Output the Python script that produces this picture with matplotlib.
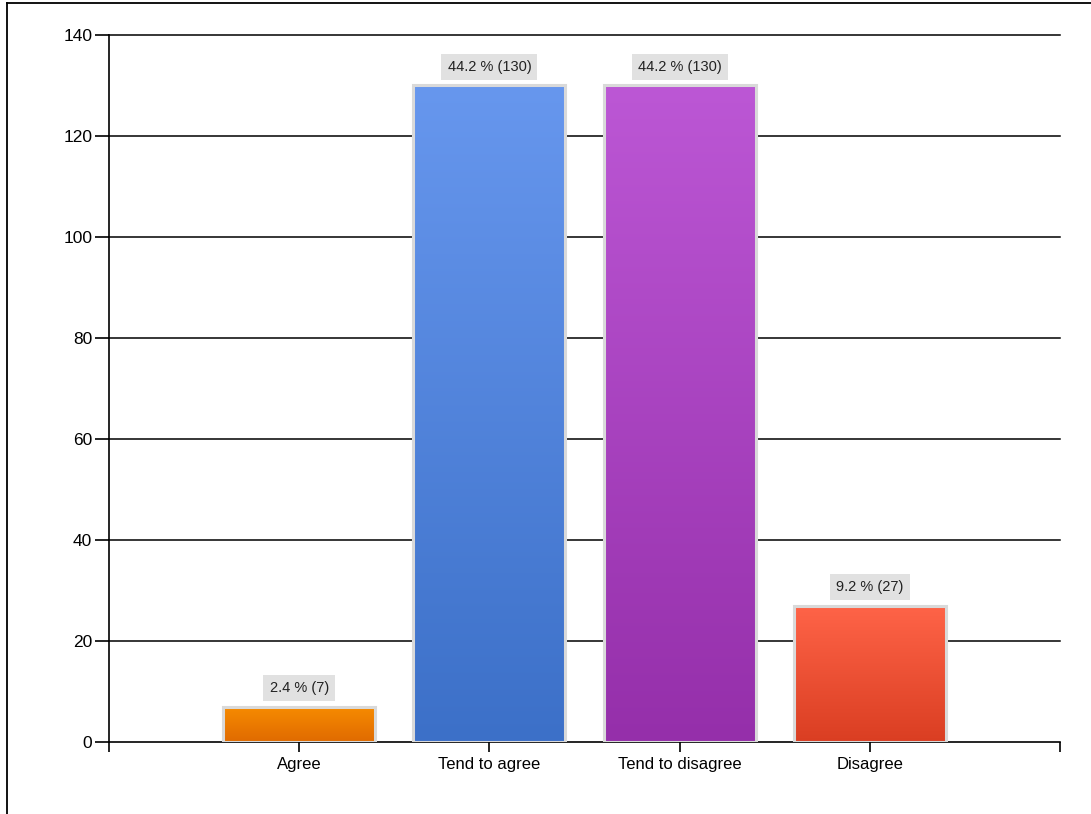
import numpy as np
import matplotlib.pyplot as plt
from matplotlib.lines import Line2D
from matplotlib.colors import LinearSegmentedColormap

categories = ["Agree", "Tend to agree", "Tend to disagree", "Disagree"]
counts = [7, 130, 130, 27]
percents = [2.4, 44.2, 44.2, 9.2]
top_colors = ["#F78C00", "#6797EE", "#BC57D5", "#FF6448"]
bottom_colors = ["#E06A00", "#3C70C8", "#952FAA", "#DA3E22"]
y_ticks = [0, 20, 40, 60, 80, 100, 120, 140]

plt.rcParams["font.family"] = ["Liberation Sans", "DejaVu Sans"]

fig = plt.figure(figsize=(10.91, 8.14), dpi=100)
ax = fig.add_axes([0.0999, 0.0885, 0.8717, 0.8685])

x = np.arange(1, len(categories) + 1)
width = 0.8
grad = np.linspace(0, 1, 256).reshape(-1, 1)

for xi, h, pct, c_top, c_bot in zip(x, counts, percents, top_colors, bottom_colors):
    cmap = LinearSegmentedColormap.from_list("g", [c_bot, c_top])
    ax.imshow(grad, cmap=cmap, origin="lower", aspect="auto",
              extent=(xi - width / 2, xi + width / 2, 0, h), zorder=3)
    ax.bar(xi, h, width=width, facecolor="none", edgecolor="#d9d9d9",
           linewidth=2.2, zorder=4)
    ax.annotate(f"{pct} % ({h})", (xi, h), xytext=(0, 8.5), textcoords="offset points",
                ha="center", va="bottom", fontsize=10.5, color="#222222",
                bbox=dict(boxstyle="square,pad=0.42", facecolor="#e1e1e1", edgecolor="none"))

ax.set_xlim(0, 5)
ax.set_ylim(0, 140)
ax.set_yticks(y_ticks)
ax.set_xticks(x)
ax.set_xticklabels(categories)
ax.set_xticks([0, 5], minor=True)
ax.tick_params(axis="y", direction="out", length=10, width=1.2, labelsize=12.5, pad=2)
ax.tick_params(axis="x", which="both", direction="out", length=7, width=1.2,
               labelsize=12, pad=4)
for yv in y_ticks[1:]:
    ax.axhline(yv, color="black", linewidth=1.1, zorder=1, clip_on=False)

for side in ["top", "right"]:
    ax.spines[side].set_visible(False)
for side in ["left", "bottom"]:
    ax.spines[side].set_linewidth(1.2)

# outer frame of the screenshot
fig.add_artist(Line2D([7 / 1091, 7 / 1091], [0, 1 - 3 / 814], color="black", lw=1.3))
fig.add_artist(Line2D([7 / 1091, 1], [1 - 3 / 814, 1 - 3 / 814], color="black", lw=1.3))

fig.savefig("out.png", dpi=100)
plt.close()
